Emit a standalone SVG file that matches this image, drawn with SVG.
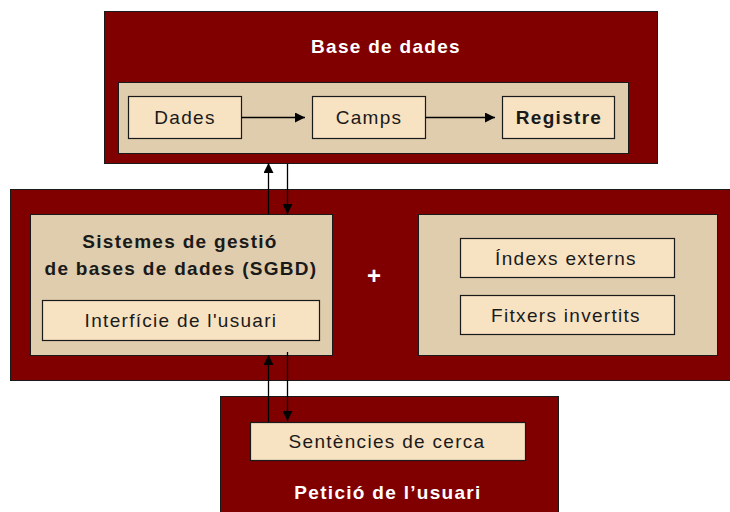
<svg xmlns="http://www.w3.org/2000/svg" width="730" height="512" viewBox="0 0 730 512">
<defs>
<style>
.outer{fill:#800000;stroke:#1a1a1a;stroke-width:1}
.panel{fill:#E0CDAD;stroke:#1a1a1a;stroke-width:1}
.box{fill:#F7E2C2;stroke:#1a1a1a;stroke-width:1.2}
.t{font-family:"Liberation Sans",Arial,sans-serif;font-size:19px;letter-spacing:1.3px;fill:#1a1a1a;text-anchor:middle}
.b{font-weight:bold}
.w{fill:#ffffff;font-weight:bold}
.c{stroke:#000;stroke-width:1.3;fill:none}
</style>
<marker id="ah" viewBox="0 0 10 10" refX="10" refY="5" markerWidth="10" markerHeight="10" markerUnits="userSpaceOnUse" orient="auto">
<path d="M0,0 L10,5 L0,10 Z" fill="#000"/>
</marker>
</defs>
<rect width="730" height="512" fill="#ffffff"/>

<g id="base-de-dades">
<rect class="outer" x="104.5" y="11.5" width="553" height="152"/>
<text class="t w" x="386" y="53">Base de dades</text>
<rect class="panel" x="118.5" y="82.5" width="510" height="71"/>
</g>
<g id="dades">
<rect class="box" x="128.5" y="96.5" width="113" height="42"/>
<text class="t" x="185" y="124">Dades</text>
</g>
<g id="camps">
<rect class="box" x="312.5" y="96.5" width="113" height="42"/>
<text class="t" x="369" y="124">Camps</text>
</g>
<g id="registre">
<rect class="box" x="502.5" y="96.5" width="112" height="42"/>
<text class="t b" x="559" y="124">Registre</text>
</g>

<g id="sistema">
<rect class="outer" x="10.5" y="189.5" width="720" height="191"/>
<text class="w" x="374" y="284" font-family="Liberation Sans,Arial,sans-serif" font-size="24" text-anchor="middle">+</text>
</g>
<g id="sgbd">
<rect class="panel" x="30.5" y="214.5" width="302" height="141"/>
<text class="t b" x="180" y="248">Sistemes de gestió</text>
<text class="t b" x="181" y="275">de bases de dades (SGBD)</text>
</g>
<g id="interficie">
<rect class="box" x="42.5" y="300.5" width="277" height="40"/>
<text class="t" x="181" y="327">Interfície de l'usuari</text>
</g>
<g id="complements">
<rect class="panel" x="418.5" y="214.5" width="299" height="141"/>
</g>
<g id="indexs">
<rect class="box" x="460.5" y="238.5" width="214" height="39"/>
<text class="t" x="566" y="265">Índexs externs</text>
</g>
<g id="fitxers">
<rect class="box" x="460.5" y="295.5" width="214" height="39"/>
<text class="t" x="566" y="322">Fitxers invertits</text>
</g>

<g id="peticio">
<rect class="outer" x="220.5" y="396.5" width="338" height="130"/>
<text class="t w" x="388" y="499">Petició de l’usuari</text>
</g>
<g id="sentencies">
<rect class="box" x="250.5" y="422.5" width="275" height="38"/>
<text class="t" x="387" y="448">Sentències de cerca</text>
</g>

<g id="connectors">
<line class="c" x1="241.5" y1="117.5" x2="305" y2="117.5" marker-end="url(#ah)"/>
<line class="c" x1="425.5" y1="117.5" x2="495" y2="117.5" marker-end="url(#ah)"/>
<line class="c" x1="268.5" y1="214" x2="268.5" y2="163" marker-end="url(#ah)"/>
<line class="c" x1="287.5" y1="164" x2="287.5" y2="214" marker-end="url(#ah)"/>
<line class="c" x1="268.5" y1="422" x2="268.5" y2="355" marker-end="url(#ah)"/>
<line class="c" x1="287.5" y1="352" x2="287.5" y2="421" marker-end="url(#ah)"/>
</g>
</svg>
